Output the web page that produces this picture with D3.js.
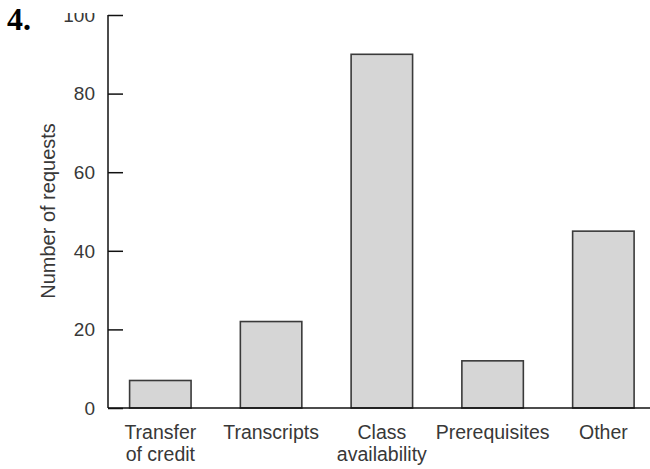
<!DOCTYPE html>
<html><head><meta charset="utf-8">
<script src="https://cdn.jsdelivr.net/npm/d3@7"></script>
<style>
body{margin:0;background:#fff;}
svg{display:block;}
text{font-family:"Liberation Sans",Arial,sans-serif;fill:#383838;}
</style></head>
<body>
<svg id="c" width="650" height="469"></svg>
<script>
const categories = [["Transfer","of credit"],["Transcripts"],["Class","availability"],["Prerequisites"],["Other"]];
const values = [7, 22, 90, 12, 45];
const yTicks = [0, 20, 40, 60, 80, 100];
const yLabel = "Number of requests";
const problemNumber = "4.";

const svg = d3.select("#c");
const x0 = 108, yTop = 15, yBase = 408;
const keys = categories.map(d => d.join(" "));
const x = d3.scaleBand().domain(keys).range([x0, 655.7]).paddingInner(0.445).paddingOuter(0.195);
const y = d3.scaleLinear().domain([0, 100]).range([yBase, yTop]);

// bars
svg.append("g").selectAll("rect").data(values).join("rect")
  .attr("x", (d,i) => x(keys[i]))
  .attr("y", d => y(d))
  .attr("width", x.bandwidth())
  .attr("height", d => y(0) - y(d))
  .attr("fill", "#d6d6d6")
  .attr("stroke", "#3a3a3a")
  .attr("stroke-width", 1.6);

// y axis
svg.append("clipPath").attr("id","cl").append("rect").attr("x",0).attr("y",13).attr("width",650).attr("height",460);
const yAxis = d3.axisRight(y).tickValues(yTicks).tickSize(15).tickFormat("");
const ga = svg.append("g").attr("transform", `translate(${x0},0)`).call(yAxis);
ga.select(".domain").attr("stroke","#111").attr("stroke-width",1.5).attr("d", `M0,${yTop}V${yBase}`);
ga.selectAll(".tick line").attr("stroke","#111").attr("stroke-width",1.5);

svg.append("g").attr("clip-path","url(#cl)").selectAll("text").data(yTicks).join("text")
  .attr("x", 95).attr("y", d => y(d)).attr("dy","0.36em")
  .attr("text-anchor","end").attr("font-size", 19).text(d => d);

// baseline
svg.append("line").attr("x1", x0).attr("x2", 650).attr("y1", y(0)).attr("y2", y(0))
  .attr("stroke","#111").attr("stroke-width",1.5);

// category labels
const cl = svg.append("g").selectAll("text").data(categories).join("text")
  .attr("text-anchor","middle").attr("font-size",19.5)
  .attr("transform",(d,i)=>`translate(${x(keys[i]) + x.bandwidth()/2},439)`);
cl.selectAll("tspan").data(d => d).join("tspan")
  .attr("x",0).attr("dy",(d,i)=> i ? 22 : 0).text(d => d);

// y label
svg.append("text").attr("transform","translate(55,211) rotate(-90)")
  .attr("text-anchor","middle").attr("font-size",20).text(yLabel);

// problem number
svg.append("text").attr("x",7).attr("y",30)
  .style("font-family","'Liberation Serif','Times New Roman',serif").style("fill","#000")
  .attr("font-weight","bold").attr("font-size",32).text(problemNumber);
</script>
</body></html>
